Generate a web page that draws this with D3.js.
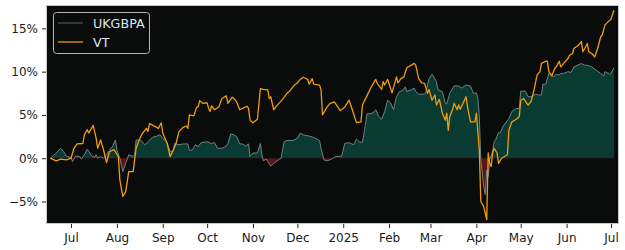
<!DOCTYPE html>
<html>
<head>
<meta charset="utf-8">
<script src="https://cdn.jsdelivr.net/npm/d3@7"></script>
<style>
  body { margin: 0; background: #fff; }
  svg { display: block; }
</style>
</head>
<body>
<div id="chart"></div>
<script>
// Cumulative return (%) of UKGBPA vs VT, Jun 2024 - Jul 2025

const vtDates = [
  "2024-06-17","2024-06-21","2024-06-24","2024-06-28","2024-07-01","2024-07-03","2024-07-05","2024-07-09",
  "2024-07-10","2024-07-12","2024-07-13","2024-07-16","2024-07-18","2024-07-19","2024-07-21","2024-07-23",
  "2024-07-25","2024-07-27","2024-07-30","2024-08-02","2024-08-03","2024-08-05","2024-08-07","2024-08-09",
  "2024-08-12","2024-08-14","2024-08-16","2024-08-18","2024-08-21","2024-08-22","2024-08-23","2024-08-27",
  "2024-08-29","2024-08-31","2024-09-01","2024-09-04","2024-09-06","2024-09-08","2024-09-10","2024-09-12",
  "2024-09-15","2024-09-17","2024-09-18","2024-09-19","2024-09-22","2024-09-23","2024-09-24","2024-09-25",
  "2024-09-26","2024-09-28","2024-10-01","2024-10-02","2024-10-03","2024-10-04","2024-10-06","2024-10-09",
  "2024-10-11","2024-10-14","2024-10-15","2024-10-18","2024-10-19","2024-10-21","2024-10-23","2024-10-25",
  "2024-10-28","2024-10-29","2024-10-30","2024-11-01","2024-11-04","2024-11-06","2024-11-08","2024-11-11",
  "2024-11-12","2024-11-13","2024-11-15","2024-11-17","2024-11-21","2024-11-24","2024-11-26","2024-11-29",
  "2024-12-01","2024-12-03","2024-12-05","2024-12-08","2024-12-09","2024-12-11","2024-12-12","2024-12-16",
  "2024-12-17","2024-12-18","2024-12-21","2024-12-23","2024-12-26","2024-12-30","2025-01-02","2025-01-05",
  "2025-01-07","2025-01-10","2025-01-13","2025-01-14","2025-01-17","2025-01-20","2025-01-23","2025-01-24",
  "2025-01-27","2025-01-28","2025-01-29","2025-01-31","2025-02-03","2025-02-06","2025-02-07","2025-02-09",
  "2025-02-11","2025-02-13","2025-02-16","2025-02-18","2025-02-19","2025-02-21","2025-02-23","2025-02-25",
  "2025-02-27","2025-02-28","2025-03-02","2025-03-04","2025-03-05","2025-03-07","2025-03-09","2025-03-11",
  "2025-03-12","2025-03-13","2025-03-14","2025-03-16","2025-03-17","2025-03-19","2025-03-20","2025-03-21",
  "2025-03-23","2025-03-25","2025-03-26","2025-03-28","2025-03-31","2025-04-01","2025-04-03","2025-04-04",
  "2025-04-06","2025-04-08","2025-04-09","2025-04-10","2025-04-11","2025-04-12","2025-04-13","2025-04-15",
  "2025-04-16","2025-04-18","2025-04-22","2025-04-23","2025-04-25","2025-04-28","2025-04-30","2025-05-01",
  "2025-05-03","2025-05-05","2025-05-06","2025-05-08","2025-05-10","2025-05-12","2025-05-14","2025-05-15",
  "2025-05-18","2025-05-19","2025-05-20","2025-05-22","2025-05-24","2025-05-25","2025-05-27","2025-05-28",
  "2025-05-30","2025-06-02","2025-06-03","2025-06-05","2025-06-06","2025-06-09","2025-06-10","2025-06-11",
  "2025-06-12","2025-06-14","2025-06-15","2025-06-16","2025-06-18","2025-06-20","2025-06-22","2025-06-24",
  "2025-06-25","2025-06-27","2025-06-29","2025-07-01","2025-07-03"
];
const vtValues = [
  0, -0.3, -0.1, -0.2, 0.0, 1.15, 1.65, 1.7,
  2.7, 3.3, 2.9, 3.8, 2.3, 1.15, 2.1, 0.95,
  -0.5, 0.75, 1.0, 0.2, -2.5, -4.4, -3.85, -1.55,
  -1.55, 1.15, 2.1, 2.8, 3.45, 3.1, 4.0, 3.65,
  3.45, 4.1, 2.9, 1.7, 0.2, 0.9, 1.7, 3.1,
  3.6, 3.7, 3.45, 5.0, 4.9, 5.4, 5.9, 5.95,
  6.65, 6.35, 6.4, 5.75, 5.4, 6.05, 5.6, 5.95,
  6.9, 7.2, 6.35, 7.05, 6.9, 6.5, 5.6, 5.75,
  6.0, 5.75, 4.4, 4.1, 4.5, 8.05, 7.95, 7.9,
  6.9, 7.1, 5.6, 6.05, 6.8, 7.5, 7.8, 8.45,
  8.7, 9.1, 9.35, 9.1, 8.55, 9.2, 8.55, 8.45,
  7.9, 5.0, 5.9, 6.3, 6.5, 5.5, 5.9, 6.7,
  5.65, 4.1, 4.2, 6.15, 7.2, 8.25, 9.1, 8.65,
  7.95, 8.85, 8.45, 9.1, 7.55, 9.4, 8.7, 9.2,
  9.4, 10.45, 10.75, 10.95, 10.75, 9.2, 8.7, 8.65,
  7.5, 7.95, 6.7, 7.3, 6.15, 6.8, 5.2, 4.4,
  5.2, 3.2, 4.8, 5.65, 6.35, 5.6, 6.15, 5.65,
  6.35, 7.1, 5.95, 4.2, 4.2, 5.2, 0.95, -5.0,
  -5.6, -7.1, 0.6, -0.6, -0.95, 0.6, 1.15, 0.6,
  -0.6, 0.0, 0.4, 3.25, 4.2, 4.5, 4.8, 6.7,
  6.9, 6.35, 6.15, 6.55, 7.9, 9.6, 10.0, 10.95,
  11.2, 11.2, 10.0, 9.5, 10.4, 10.55, 11.2, 10.55,
  10.95, 11.55, 11.9, 12.1, 12.7, 13.05, 13.25, 13.5,
  12.3, 12.9, 13.25, 12.3, 12.1, 11.7, 12.7, 14.0,
  14.2, 15.4, 15.75, 16.05, 17.1
];

const ukDates = [
  "2024-06-17","2024-06-21","2024-06-24","2024-06-26","2024-06-28","2024-07-01","2024-07-02","2024-07-04",
  "2024-07-07","2024-07-08","2024-07-10","2024-07-12","2024-07-15","2024-07-17","2024-07-18","2024-07-19",
  "2024-07-21","2024-07-23","2024-07-25","2024-07-27","2024-07-29","2024-07-31","2024-08-01","2024-08-03",
  "2024-08-05","2024-08-07","2024-08-09","2024-08-12","2024-08-13","2024-08-14","2024-08-17","2024-08-20",
  "2024-08-22","2024-08-25","2024-08-28","2024-08-30","2024-09-01","2024-09-04","2024-09-06","2024-09-08",
  "2024-09-09","2024-09-12","2024-09-15","2024-09-18","2024-09-19","2024-09-21","2024-09-23","2024-09-25",
  "2024-09-27","2024-10-01","2024-10-04","2024-10-06","2024-10-08","2024-10-11","2024-10-14","2024-10-15",
  "2024-10-17","2024-10-19","2024-10-21","2024-10-23","2024-10-25","2024-10-27","2024-10-29","2024-10-30",
  "2024-11-01","2024-11-04","2024-11-06","2024-11-07","2024-11-08","2024-11-10","2024-11-11","2024-11-13",
  "2024-11-15","2024-11-19","2024-11-20","2024-11-22","2024-11-24","2024-11-28","2024-12-01","2024-12-03",
  "2024-12-05","2024-12-09","2024-12-12","2024-12-16","2024-12-17","2024-12-19","2024-12-21","2024-12-23",
  "2024-12-25","2024-12-27","2024-12-31","2025-01-02","2025-01-05","2025-01-08","2025-01-10","2025-01-12",
  "2025-01-14","2025-01-16","2025-01-17","2025-01-21","2025-01-23","2025-01-25","2025-01-27","2025-01-29",
  "2025-01-31","2025-02-02","2025-02-04","2025-02-06","2025-02-08","2025-02-10","2025-02-12","2025-02-13",
  "2025-02-16","2025-02-18","2025-02-19","2025-02-21","2025-02-25","2025-02-26","2025-02-28","2025-03-02",
  "2025-03-05","2025-03-06","2025-03-09","2025-03-11","2025-03-12","2025-03-14","2025-03-17","2025-03-20",
  "2025-03-22","2025-03-25","2025-03-28","2025-03-30","2025-04-01","2025-04-02","2025-04-03","2025-04-04",
  "2025-04-06","2025-04-07","2025-04-08","2025-04-09","2025-04-10","2025-04-12","2025-04-13","2025-04-14",
  "2025-04-16","2025-04-17","2025-04-19","2025-04-23","2025-04-25","2025-04-28","2025-04-30","2025-05-01",
  "2025-05-04","2025-05-06","2025-05-08","2025-05-11","2025-05-13","2025-05-15","2025-05-16","2025-05-18",
  "2025-05-20","2025-05-23","2025-05-25","2025-05-27","2025-05-28","2025-05-30","2025-06-02","2025-06-04",
  "2025-06-06","2025-06-08","2025-06-11","2025-06-13","2025-06-15","2025-06-18","2025-06-20","2025-06-22",
  "2025-06-24","2025-06-26","2025-06-27","2025-06-30","2025-07-01","2025-07-03"
];
const ukValues = [
  0, 0.6, 1.15, 0.75, 0.2, 0.1, -0.4, 0.25,
  0.2, -0.1, 0.4, 1.05, 0.25, 0.1, 0.4, 0.0,
  0.2, 0.0, 0.4, 0.9, 1.35, 2.1, 0.95, 0.0,
  -1.55, -0.6, 0.4, 0.2, 0.4, 2.1, 2.1, 1.55,
  1.9, 2.4, 2.55, 2.7, 2.3, 1.8, 0.75, 0.9,
  1.7, 1.55, 1.65, 1.65, 0.9, 0.95, 1.55, 1.35,
  1.8, 1.9, 1.7, 1.8, 1.15, 1.15, 1.4, 1.65,
  2.8, 2.7, 2.5, 1.65, 1.65, 1.4, 1.65, 0.2,
  0.6, 0.6, 1.7, 0.4, -0.3, -0.1, -0.4, -0.9,
  -0.6, -0.1, 0.0, 1.9, 2.05, 2.05, 2.3, 2.9,
  2.7, 2.55, 2.4, 2.05, 1.15, -0.2, -0.3, -0.2,
  0.0, 0.2, 0.25, 1.7, 1.8, 1.55, 2.2, 1.9,
  1.8, 3.85, 5.1, 5.2, 5.6, 4.8, 4.5, 5.4,
  6.7, 6.4, 5.6, 7.1, 7.7, 7.8, 8.25, 7.7,
  7.9, 8.1, 7.7, 7.4, 7.4, 7.7, 9.2, 9.7,
  8.85, 7.9, 7.7, 6.35, 6.25, 7.5, 8.35, 8.35,
  8.1, 8.45, 8.35, 7.5, 7.55, 6.9, 4.8, -0.2,
  -3.3, -4.2, -1.35, -2.1, -0.2, 0.8, 1.9, 2.1,
  2.95, 2.9, 3.65, 4.6, 5.4, 5.75, 5.75, 7.75,
  7.75, 7.1, 7.1, 7.4, 7.3, 7.3, 8.55, 8.55,
  9.8, 9.4, 9.7, 9.6, 9.8, 9.8, 10.0, 9.9,
  10.55, 10.7, 10.95, 10.75, 10.75, 10.55, 10.3, 10.05,
  9.8, 9.5, 10.0, 9.7, 9.8, 10.45
];

const yTicks = [-5, 0, 5, 10, 15];
const seriesNames = ["UKGBPA", "VT"];

function renderChart() {
  const width = 625, height = 250;
  const margin = { top: 5, right: 6, bottom: 26, left: 46 };
  const parse = d3.utcParse("%Y-%m-%d");

  const uk = ukDates.map((d, i) => ({ date: parse(d), value: ukValues[i] }));
  const vt = vtDates.map((d, i) => ({ date: parse(d), value: vtValues[i] }));

  const svg = d3.select("#chart").append("svg")
    .attr("width", width)
    .attr("height", height);

  const x = d3.scaleUtc()
    .domain([new Date(Date.UTC(2024, 5, 14, 2)), new Date(Date.UTC(2025, 6, 6, 10))])
    .range([margin.left, width - margin.right]);

  const y = d3.scaleLinear()
    .domain([-7.6, 17.7])
    .range([height - margin.bottom, margin.top]);

  const plotW = width - margin.left - margin.right;
  const plotH = height - margin.top - margin.bottom;

  // plot background
  svg.append("rect")
    .attr("x", margin.left).attr("y", margin.top)
    .attr("width", plotW).attr("height", plotH)
    .attr("fill", "#0a0b0b");

  // clip paths for positive / negative fill
  const defs = svg.append("defs");
  defs.append("clipPath").attr("id", "above")
    .append("rect")
    .attr("x", margin.left).attr("y", margin.top)
    .attr("width", plotW).attr("height", y(0) - margin.top);
  defs.append("clipPath").attr("id", "below")
    .append("rect")
    .attr("x", margin.left).attr("y", y(0))
    .attr("width", plotW).attr("height", height - margin.bottom - y(0));

  const area = d3.area()
    .x(d => x(d.date))
    .y0(y(0))
    .y1(d => y(d.value));

  svg.append("path").datum(uk)
    .attr("clip-path", "url(#above)")
    .attr("fill", "#093b32")
    .attr("d", area);

  svg.append("path").datum(uk)
    .attr("clip-path", "url(#below)")
    .attr("fill", "#611414")
    .attr("d", area);

  const line = d3.line()
    .x(d => x(d.date))
    .y(d => y(d.value));

  svg.append("path").datum(uk)
    .attr("fill", "none")
    .attr("stroke", "#6e8282")
    .attr("stroke-width", 1)
    .attr("d", line);

  svg.append("path").datum(vt)
    .attr("fill", "none")
    .attr("stroke", "#f09c0c")
    .attr("stroke-width", 1.3)
    .attr("stroke-linejoin", "round")
    .attr("d", line);

  // frame
  svg.append("rect")
    .attr("x", margin.left + 0.5).attr("y", margin.top + 0.5)
    .attr("width", plotW - 1).attr("height", plotH - 1)
    .attr("fill", "none")
    .attr("stroke", "#c8c8c8")
    .attr("stroke-width", 1);

  // axes
  const monthTicks = d3.utcMonth.range(new Date(Date.UTC(2024, 6, 1)), new Date(Date.UTC(2025, 6, 2)));
  const fmtMonth = d3.utcFormat("%b");
  const fmtYear = d3.utcFormat("%Y");

  const xAxis = svg.append("g")
    .attr("transform", `translate(0,${height - margin.bottom})`)
    .call(d3.axisBottom(x)
      .tickValues(monthTicks)
      .tickFormat(d => d.getUTCMonth() === 0 ? fmtYear(d) : fmtMonth(d))
      .tickSize(4)
      .tickPadding(5));

  const yAxis = svg.append("g")
    .attr("transform", `translate(${margin.left},0)`)
    .call(d3.axisLeft(y)
      .tickValues(yTicks)
      .tickFormat(d => (d < 0 ? "\u2212" + Math.abs(d) : d) + "%")
      .tickSize(4)
      .tickPadding(4));

  [xAxis, yAxis].forEach(g => {
    g.select(".domain").remove();
    g.selectAll(".tick line").attr("stroke", "#222");
    g.selectAll(".tick text")
      .attr("fill", "#1a1a1a")
      .style("font-family", "'DejaVu Sans', sans-serif")
      .style("font-size", "12px");
  });

  // legend
  const legend = svg.append("g");
  legend.append("rect")
    .attr("x", 53.5).attr("y", 12.5)
    .attr("width", 96).attr("height", 41)
    .attr("rx", 3)
    .attr("fill", "#0a0b0b")
    .attr("stroke", "#b4b4b4")
    .attr("stroke-width", 1);

  const legendColors = ["#4d5252", "#f09c0c"];
  seriesNames.forEach((name, i) => {
    const ly = 23 + i * 19;
    legend.append("line")
      .attr("x1", 58).attr("x2", 83)
      .attr("y1", ly).attr("y2", ly)
      .attr("stroke", legendColors[i])
      .attr("stroke-width", 1.3);
    legend.append("text")
      .attr("x", 93).attr("y", ly + 5)
      .attr("fill", "#dde6ee")
      .style("font-family", "'DejaVu Sans', sans-serif")
      .style("font-size", "12.7px")
      .text(name);
  });
}

document.addEventListener("DOMContentLoaded", renderChart);
</script>
</body>
</html>
